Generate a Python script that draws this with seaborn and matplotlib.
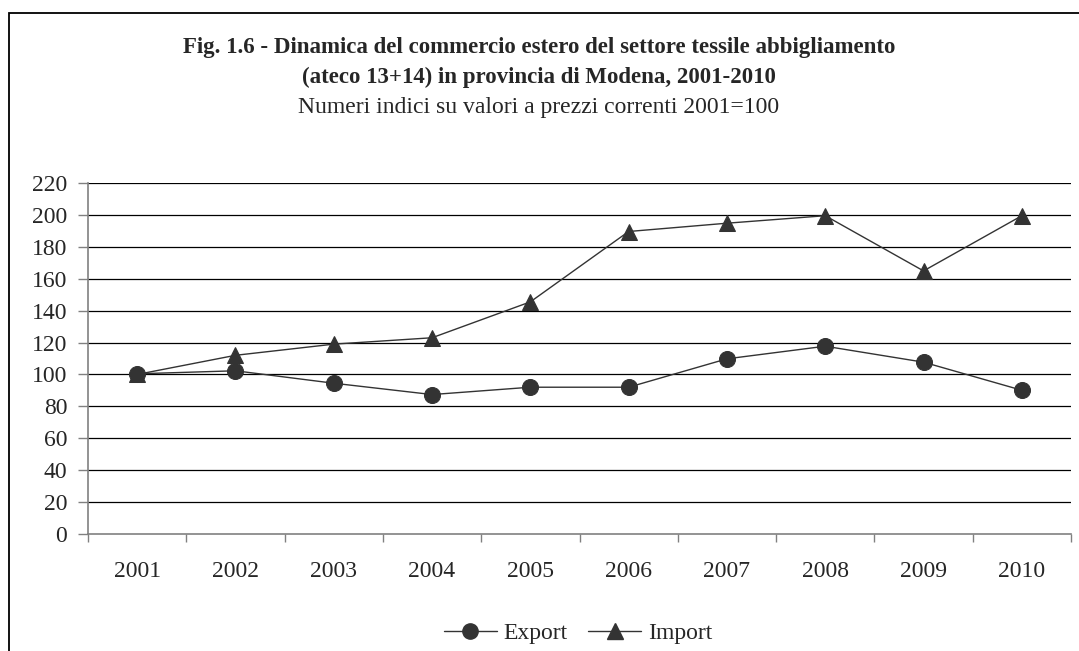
import numpy as np
import pandas as pd
import matplotlib.pyplot as plt
import seaborn as sns
from matplotlib.patches import Rectangle

## Data (index numbers, 2001=100)
years = ['2001', '2002', '2003', '2004', '2005', '2006', '2007', '2008', '2009', '2010']
export_vals = [100.4, 102.3, 94.5, 87.4, 92.0, 92.0, 109.8, 117.7, 107.7, 90.1]
import_vals = [100.0, 112.0, 119.0, 123.0, 145.5, 189.6, 194.8, 199.5, 164.9, 199.5]
y_ticks = list(range(0, 221, 20))

sTitle1 = "Fig. 1.6 - Dinamica del commercio estero del settore tessile abbigliamento"
sTitle2 = "(ateco 13+14) in provincia di Modena, 2001-2010"
sSubTitle = "Numeri indici su valori a prezzi correnti 2001=100"

sns.set_style("white")
plt.rcParams['font.family'] = ['Liberation Serif', 'DejaVu Serif']

df = pd.DataFrame({
    'pos': list(range(len(years))) * 2,
    'value': export_vals + import_vals,
    'series': ['Export'] * len(years) + ['Import'] * len(years),
})

W, H = 1079, 651
fig = plt.figure(figsize=(W / 100, H / 100), dpi=100)
ax = fig.add_axes([88 / W, 1 - 534 / H, (1071 - 88) / W, (534 - 183) / H])

# grid lines first, under the series
for yv in y_ticks[1:]:
    ax.axhline(yv, color='black', lw=0.9, zorder=0)

sns.lineplot(data=df, x='pos', y='value', style='series',
             markers={'Export': 'o', 'Import': '^'}, dashes=False,
             color='#333333', linewidth=1.0, markersize=11.5,
             markeredgecolor='#333333', ax=ax, legend=False, zorder=3)

ax.set_xlim(-0.5, len(years) - 0.5)
ax.set_ylim(0, 220)
ax.set_yticks(y_ticks)
ax.set_yticklabels([str(v) for v in y_ticks], fontsize=17)
ax.set_xticks(np.arange(-0.5, len(years), 1))
ax.set_xticklabels([])
ax.set_xticks(range(len(years)), minor=True)
ax.set_xticklabels(years, minor=True, fontsize=17)
ax.tick_params(axis='x', which='major', direction='out', length=6, width=1, color='#808080', bottom=True)
ax.tick_params(axis='x', which='minor', length=0, pad=19.5)
ax.tick_params(axis='y', direction='out', length=7, width=1, color='#808080', left=True, pad=8)
ax.set_xlabel('')
ax.set_ylabel('')

for s in ['top', 'right']:
    ax.spines[s].set_visible(False)
for s in ['left', 'bottom']:
    ax.spines[s].set_color('#808080')
    ax.spines[s].set_linewidth(1.2)

# Titles (each line placed on its own baseline)
fig.text(539 / W, 1 - 53 / H, sTitle1, ha='center', va='baseline', fontsize=16.5, fontweight='bold')
fig.text(539 / W, 1 - 83 / H, sTitle2, ha='center', va='baseline', fontsize=16.5, fontweight='bold')
fig.text(539 / W, 1 - 113 / H, sSubTitle, ha='center', va='baseline', fontsize=17)

# Legend
handles = [plt.Line2D([], [], color='#333333', lw=1.0, marker='o', markersize=11),
           plt.Line2D([], [], color='#333333', lw=1.0, marker='^', markersize=11)]
fig.legend(handles, ['Export', 'Import'], loc='center', bbox_to_anchor=(578 / W, 1 - 633 / H),
           ncol=2, frameon=False, fontsize=17, handlelength=2.25, handletextpad=0.3,
           columnspacing=0.85, borderaxespad=0, borderpad=0)

# outer frame of the chart area
fig.patches.append(Rectangle((9 / W, -0.05), 1.2, 1 - 12.5 / H + 0.05,
                             transform=fig.transFigure, fill=False,
                             edgecolor='black', lw=1.3))

fig.savefig('out.png', dpi=100)
